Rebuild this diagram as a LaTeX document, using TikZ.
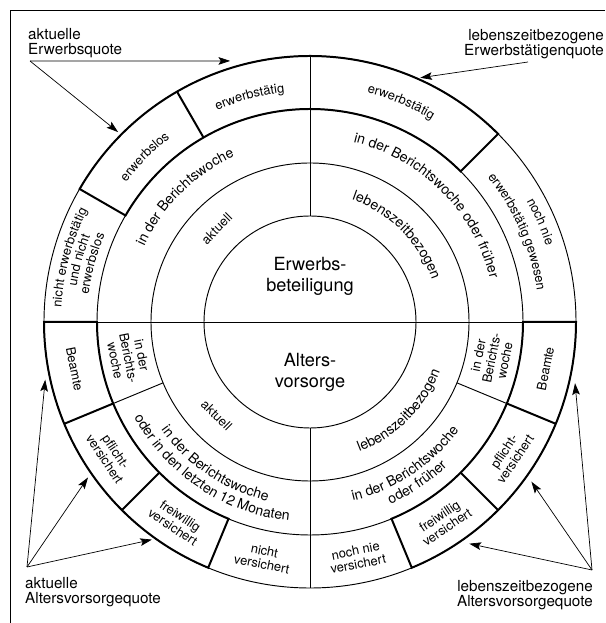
\documentclass[tikz,border=0pt]{standalone}
\usepackage{fontspec}
\setmainfont{TeX Gyre Heros}
\usetikzlibrary{arrows.meta, decorations.text}

\begin{document}
\begin{tikzpicture}[
    x=0.03cm, y=0.03cm,
    % ── Ring lines: thin circles, bold outline of the quota cells ────
    ring/.style={line width=0.8pt},
    bold/.style={line width=1.7pt},
    % ── Straight cell text (rotated nodes) ───────────────────────────
    cell/.style={align=center, inner sep=0pt,
                 font=\fontsize{11}{11.5}\selectfont},
    % ── Centre text ──────────────────────────────────────────────────
    hub/.style={align=center, inner sep=0pt,
                font=\fontsize{15.5}{18}\selectfont},
    % ── Quota labels outside the circle ──────────────────────────────
    quote/.style={inner sep=0pt, font=\fontsize{13}{13}\selectfont},
    % ── Text set along an arc ────────────────────────────────────────
    curved/.style={decorate, decoration={text along path, text align=center,
        text={|\fontsize{12}{12}\selectfont|#1}}},
    curvedsmall/.style={decorate, decoration={text along path, text align=center,
        text={|\fontsize{11}{11}\selectfont|#1}}},
    % ── Arrows: thin, filled tip ─────────────────────────────────────
    arrow/.style={line width=0.6pt, -{Stealth[length=10pt, width=6.5pt, inset=2pt]}}
]

    \useasboundingbox (0,0) rectangle (605,623);

    % ── Frame (top and left edge) ──
    \draw[line width=0.8pt] (10,0) -- (10,613) -- (605,613);

    \coordinate (c) at (310,301);

% ══════════════════════════════════════════════════════════════════════
% RINGS
% ══════════════════════════════════════════════════════════════════════
\begin{scope}[shift={(c)}]

    \draw[ring] (0,0) circle[radius=106];
    \draw[ring] (0,0) circle[radius=159];
    \draw[ring] (0,0) circle[radius=213];
    \draw[ring] (0,0) circle[radius=266];

    \draw[ring] (180:266) -- (0:266);
    \draw[ring] (90:106) -- (90:266);
    \draw[ring] (270:106) -- (270:266);
    \draw[ring] (202.5:159) -- (202.5:213);
    \draw[ring] (-22.5:159) -- (-22.5:213);

    % ── bold cells of the outer ring ──
    \draw[bold] (45:213) -- (45:266) arc[start angle=45, end angle=150, radius=266]
        -- (150:213) arc[start angle=150, end angle=45, radius=213] -- cycle;
    \draw[bold] (120:213) -- (120:266);

    \draw[bold] (180:213) -- (180:266) arc[start angle=180, end angle=247.5, radius=266]
        -- (247.5:213) arc[start angle=247.5, end angle=180, radius=213] -- cycle;
    \draw[bold] (202.5:213) -- (202.5:266);
    \draw[bold] (225:213) -- (225:266);

    \draw[bold] (0:213) -- (0:266) arc[start angle=0, end angle=-67.5, radius=266]
        -- (-67.5:213) arc[start angle=-67.5, end angle=0, radius=213] -- cycle;
    \draw[bold] (-22.5:213) -- (-22.5:266);
    \draw[bold] (-45:213) -- (-45:266);

% ══════════════════════════════════════════════════════════════════════
% CELL TEXTS
% ══════════════════════════════════════════════════════════════════════

    % ── Centre ──
    \node[hub] (erw) at (0,46) {Erwerbs-\\beteiligung};
    \node[hub] (alt) at (0,-50) {Alters-\\vorsorge};

    % ── Upper left ──
    \node[cell, rotate=45] (ulakt) at (135:132) {aktuell};
    \path[curved={in der Berichtswoche}]
        (180:182) arc[start angle=180, end angle=90, radius=182];
    \path[curvedsmall={erwerbstätig}]
        (120:231) arc[start angle=120, end angle=90, radius=231];
    \path[curvedsmall={erwerbslos}]
        (150:231) arc[start angle=150, end angle=120, radius=231];
    \path[curvedsmall={nicht erwerbstätig}]
        (180:249) arc[start angle=180, end angle=150, radius=249];
    \path[curvedsmall={und nicht}]
        (180:236) arc[start angle=180, end angle=150, radius=236];
    \path[curvedsmall={erwerbslos}]
        (180:223) arc[start angle=180, end angle=150, radius=223];

    % ── Upper right ──
    \path[curved={lebenszeitbezogen}]
        (90:129) arc[start angle=90, end angle=0, radius=129];
    \path[curved={in der Berichtswoche oder früher}]
        (90:185) arc[start angle=90, end angle=0, radius=185];
    \path[curvedsmall={erwerbstätig}]
        (90:236) arc[start angle=90, end angle=45, radius=236];
    \path[curvedsmall={noch nie}]
        (47:248) arc[start angle=47, end angle=0, radius=248];
    \path[curvedsmall={erwerbstätig gewesen}]
        (47:229) arc[start angle=47, end angle=0, radius=229];

    % ── Lower left ──
    \node[cell, rotate=-45] (llakt) at (225:132) {aktuell};
    \node[cell, rotate=-78.75] (llbw) at (191.25:185) {in der\\Berichts-\\woche};
    \path[curved={in der Berichtswoche}]
        (202.5:184) arc[start angle=202.5, end angle=270, radius=184];
    \path[curved={oder in den letzten 12 Monaten}]
        (202.5:200) arc[start angle=202.5, end angle=270, radius=200];
    \node[cell, rotate=-78.75] (llbea) at (191.25:240) {Beamte};
    \node[cell, rotate=-56.25] (llpfl) at (213.75:240) {pflicht-\\versichert};
    \node[cell, rotate=-33.75] (llfrw) at (236.25:240) {freiwillig\\versichert};
    \node[cell, rotate=-11.25] (llnv) at (258.75:240) {nicht\\versichert};

    % ── Lower right ──
    \path[curved={lebenszeitbezogen}]
        (270:139) arc[start angle=270, end angle=360, radius=139];
    \path[curved={in der Berichtswoche}]
        (270:184) arc[start angle=270, end angle=337.5, radius=184];
    \path[curved={oder früher}]
        (270:199) arc[start angle=270, end angle=337.5, radius=199];
    \node[cell, rotate=78.75] (lrbw) at (-11.25:185) {in der\\Berichts-\\woche};
    \node[cell, rotate=78.75] (lrbea) at (-11.25:240) {Beamte};
    \node[cell, rotate=56.25] (lrpfl) at (-33.75:240) {pflicht-\\versichert};
    \node[cell, rotate=33.75] (lrfrw) at (-56.25:240) {freiwillig\\versichert};
    \node[cell, rotate=11.25] (lrnv) at (-78.75:240) {noch nie\\versichert};

    % ── arrow tips on the outer circle ──
    \coordinate (aeq1) at (107:273);
    \coordinate (aeq2) at (135.3:270);
    \coordinate (leq1) at (65.7:268);
    \coordinate (aaq1) at (192.3:271);
    \coordinate (aaq2) at (215:271);
    \coordinate (aaq3) at (234:269);
    \coordinate (laq1) at (-13:272);
    \coordinate (laq2) at (-35.8:273);
    \coordinate (laq3) at (-54.3:273);
\end{scope}

% ══════════════════════════════════════════════════════════════════════
% QUOTA LABELS AND ARROWS
% ══════════════════════════════════════════════════════════════════════

    \node[quote, anchor=north west, align=left] (aeq) at (28,595)
        {aktuelle\\Erwerbsquote};
    \node[quote, anchor=north east, align=right] (leq) at (604,594)
        {lebenszeitbezogene\\Erwerbstätigenquote};
    \node[quote, anchor=north west, align=left] (aaq) at (25,46)
        {aktuelle\\Altersvorsorgequote};
    \node[quote, anchor=north east, align=right] (laq) at (593,43)
        {lebenszeitbezogene\\Altersvorsorgequote};

    \coordinate (aeqo) at (30,562);
    \coordinate (leqo) at (528,561);
    \coordinate (aaqo) at (27,56);
    \coordinate (laqo) at (592,53);

    \draw[arrow] (aeqo) -- (aeq1);
    \draw[arrow] (aeqo) -- (aeq2);
    \draw[arrow] (leqo) -- (leq1);
    \draw[arrow] (aaqo) -- (aaq1);
    \draw[arrow] (aaqo) -- (aaq2);
    \draw[arrow] (aaqo) -- (aaq3);
    \draw[arrow] (laqo) -- (laq1);
    \draw[arrow] (laqo) -- (laq2);
    \draw[arrow] (laqo) -- (laq3);

\end{tikzpicture}
\end{document}
